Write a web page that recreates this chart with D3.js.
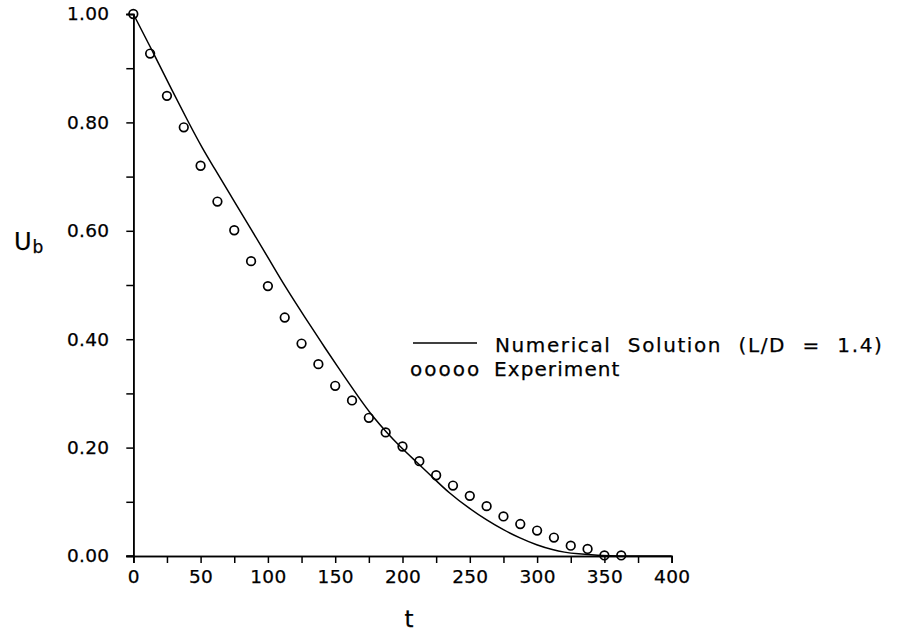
<!DOCTYPE html>
<html>
<head>
<meta charset="utf-8">
<script src="https://cdn.jsdelivr.net/npm/d3@7"></script>
<style>
  html, body { margin: 0; padding: 0; background: #fff; }
  svg { display: block; }
  text { font-family: "DejaVu Sans", sans-serif; fill: #000; stroke: #000; stroke-width: 0.25px; }
</style>
</head>
<body>
<svg id="chart" width="900" height="635"></svg>
<script>
// Experimental bulk velocity decay
const expT = [0, 12.5, 25, 37.5, 50, 62.5, 75, 87.5, 100, 112.5, 125, 137.5, 150, 162.5, 175,
              187.5, 200, 212.5, 225, 237.5, 250, 262.5, 275, 287.5, 300, 312.5, 325, 337.5, 350, 362.5];
const expU = [1.000, 0.927, 0.849, 0.791, 0.720, 0.654, 0.601, 0.544, 0.498, 0.440, 0.392, 0.354, 0.314, 0.287, 0.255,
              0.228, 0.202, 0.175, 0.149, 0.130, 0.111, 0.092, 0.073, 0.059, 0.047, 0.034, 0.019, 0.013, 0.001, 0.001];

// Numerical solution, L/D = 1.4
const numT = [0, 15, 29, 41, 52, 59.4, 74.3, 88, 101, 112, 127.6, 140, 151, 168.4, 178.3, 188.2, 198.1,
              209.3, 220.4, 235, 250, 262.6, 275, 287.3, 299.7, 312, 320, 330, 345, 360, 400];
const numU = [1.000, 0.928, 0.858, 0.800, 0.749, 0.719, 0.657, 0.601, 0.547, 0.500, 0.440, 0.393, 0.352, 0.289, 0.256, 0.228, 0.202,
              0.176, 0.150, 0.115, 0.087, 0.066, 0.048, 0.033, 0.020, 0.011, 0.007, 0.004, 0.001, 0, 0];

const xTicks = [0, 50, 100, 150, 200, 250, 300, 350, 400];
const xMinor = [25, 75, 125, 175, 225, 275, 325, 375];
const yTicks = [0, 0.2, 0.4, 0.6, 0.8, 1.0];
const yMinor = [0.1, 0.3, 0.5, 0.7, 0.9];

const legendLabels = ["Numerical Solution (L/D = 1.4)", "Experiment"];

const svg = d3.select("#chart");
svg.append("rect").attr("width", 900).attr("height", 635).attr("fill", "#fff");

const x = d3.scaleLinear().domain([0, 400]).range([133.3, 671.7]);
const y = d3.scaleLinear().domain([0, 1]).range([556, 14]);

const tickFont = sel => sel.selectAll("text")
  .attr("font-size", 18.5).attr("letter-spacing", 0.3).attr("fill", "#000");

// axes
const yAxis = svg.append("g").attr("transform", `translate(${x(0)},0)`)
  .call(d3.axisLeft(y).tickValues(yTicks).tickFormat(d3.format(".2f")).tickSize(7).tickPadding(17));
yAxis.call(tickFont);
svg.append("g").attr("transform", `translate(${x(0)},0)`)
  .call(d3.axisLeft(y).tickValues(yMinor).tickFormat("").tickSize(7));

const xAxis = svg.append("g").attr("transform", `translate(0,${y(0)})`)
  .call(d3.axisBottom(x).tickValues(xTicks).tickFormat(d3.format("d")).tickSize(7).tickPadding(7));
xAxis.call(tickFont);
svg.append("g").attr("transform", `translate(0,${y(0)})`)
  .call(d3.axisBottom(x).tickValues(xMinor).tickFormat("").tickSize(7));

svg.selectAll(".domain").attr("stroke", "#000").attr("stroke-width", 1.6);
svg.selectAll(".tick line").attr("stroke", "#000").attr("stroke-width", 1.5);
// axisLeft/axisBottom draw outer end caps; keep the spines plain
svg.selectAll(".domain").each(function () {
  const el = d3.select(this);
  const d = el.attr("d");
  el.attr("d", d.replace(/^M-?[\d.]+,([\d.]+)H0V([\d.]+)H-?[\d.]+$/, "M0,$1V$2")
               .replace(/^M([\d.]+),[\d.]+V0H([\d.]+)V[\d.]+$/, "M$1,0H$2"));
});
// x axis line reaching to the 0.00 tick
svg.append("line").attr("x1", x(0) - 7).attr("x2", x(0))
  .attr("y1", y(0)).attr("y2", y(0)).attr("stroke", "#000").attr("stroke-width", 1.6);

// numerical solution curve
const line = d3.line().x((d, i) => x(numT[i])).y(d => y(d)).curve(d3.curveBasis);
svg.append("path").datum(numU).attr("d", line)
  .attr("fill", "none").attr("stroke", "#000").attr("stroke-width", 1.5);

// experiment markers
svg.append("g").selectAll("circle").data(expU).join("circle")
  .attr("cx", (d, i) => x(expT[i])).attr("cy", d => y(d)).attr("r", 4.3)
  .attr("fill", "none").attr("stroke", "#000").attr("stroke-width", 1.7);

// axis titles
const yTitle = svg.append("text").attr("x", 14).attr("y", 250).attr("font-size", 24);
yTitle.append("tspan").text("U");
yTitle.append("tspan").attr("font-size", 17).attr("dy", 3).attr("dx", 1).text("b");
svg.append("text").attr("x", 409).attr("y", 627).attr("text-anchor", "middle")
  .attr("font-size", 23).text("t");

// legend
const lg = svg.append("g");
lg.append("line").attr("x1", 413).attr("x2", 477).attr("y1", 343).attr("y2", 343)
  .attr("stroke", "#000").attr("stroke-width", 1.6);
lg.append("text").attr("x", 495).attr("y", 351.5).attr("font-size", 20)
  .attr("letter-spacing", 1.6).attr("word-spacing", 8.5).text(legendLabels[0]);
lg.append("text").attr("x", 410).attr("y", 375.5).attr("font-size", 20)
  .attr("letter-spacing", 2).text("ooooo");
lg.append("text").attr("x", 494).attr("y", 375.5).attr("font-size", 20)
  .attr("letter-spacing", 1.1).text(legendLabels[1]);
</script>
</body>
</html>
